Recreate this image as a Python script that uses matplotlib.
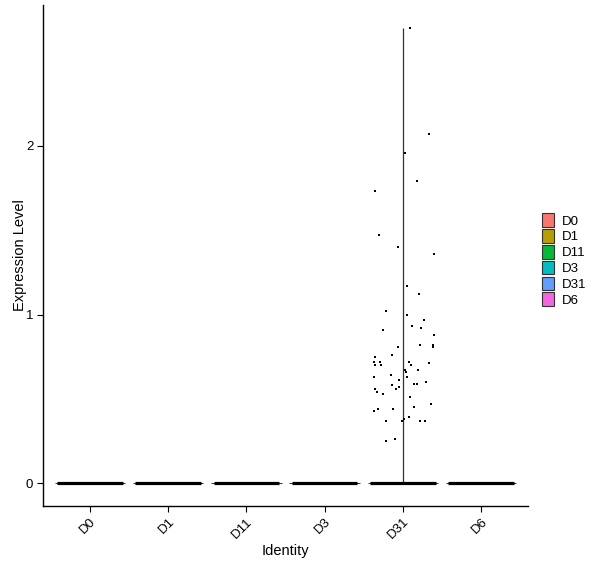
import numpy as np
import matplotlib
matplotlib.use("Agg")
from matplotlib import pyplot as plt
from matplotlib.patches import Patch

plt.rcParams['font.family'] = ['Liberation Sans', 'DejaVu Sans']

groups = ["D0", "D1", "D11", "D3", "D31", "D6"]
colors = ["#F8766D", "#B79F00", "#00BA38", "#00BFC4", "#619CFF", "#F564E3"]
# max expression per group (violin extends to max)
group_max = [0, 0, 0, 0, 2.70, 0]

# non-zero cells in D31: expression values and their jitter offsets
d31_values = [2.70, 2.07, 1.96, 1.79, 1.73, 1.47, 1.40, 1.36, 1.17, 1.12,
              1.02, 1.00, 0.97, 0.93, 0.91, 0.92, 0.88, 0.82, 0.82, 0.81,
              0.81, 0.76, 0.75, 0.72, 0.72, 0.72, 0.70, 0.71, 0.70, 0.70,
              0.67, 0.66, 0.67, 0.64, 0.63, 0.63, 0.61, 0.60, 0.59, 0.59,
              0.58, 0.57, 0.56, 0.56, 0.54, 0.53, 0.51, 0.47, 0.45, 0.44,
              0.44, 0.43, 0.39, 0.38, 0.37, 0.37, 0.37, 0.37, 0.26, 0.25]
d31_jitter = [0.09, 0.33, 0.03, 0.18, -0.35, -0.31, -0.06, 0.40, 0.05, 0.21,
              -0.22, 0.05, 0.27, 0.12, -0.26, 0.23, 0.40, 0.22, 0.38, 0.38,
              -0.06, -0.14, -0.35, 0.08, -0.37, -0.29, 0.10, 0.33, -0.36, -0.28,
              0.03, 0.04, 0.19, -0.15, -0.37, 0.05, -0.05, 0.29, 0.14, 0.18,
              -0.14, -0.05, -0.36, -0.09, -0.33, -0.26, 0.09, 0.36, 0.14, -0.32,
              -0.12, -0.37, 0.08, 0.01, -0.21, -0.01, 0.22, 0.28, -0.10, -0.22]

fig = plt.figure(figsize=(6, 5.68), dpi=100, facecolor='w')
ax = fig.add_axes([43 / 600, 1 - 506 / 568, 485 / 600, 501 / 568])

pos = np.arange(len(groups))
for i in pos:
    # flat violin outline at zero
    ax.hlines(0, i - 0.45, i + 0.45, color='#333333', lw=0.7, zorder=2)
    # jittered zero-valued cells form a thick band
    ax.hlines(0, i - 0.42, i + 0.42, color='black', lw=2.3, zorder=3)
    if group_max[i] > 0:
        ax.vlines(i, 0, group_max[i], color='#333333', lw=0.9, zorder=2)

d31 = groups.index("D31")
ax.plot(d31 + np.array(d31_jitter), d31_values, 's', color='black',
        ms=1.8, mew=0, zorder=4)

ax.set_xlim(-0.6, len(groups) - 0.4)
ax.set_ylim(-0.135, 2.835)
ax.set_xticks(pos)
ax.set_xticklabels(groups, rotation=45, ha='right', va='top',
                   rotation_mode='anchor', fontsize=9.5)
ax.set_yticks([0, 1, 2])
ax.set_yticklabels(['0', '1', '2'], fontsize=9.5)
ax.tick_params(length=4, width=0.8, color='black', labelcolor='black')
ax.tick_params(axis='x', pad=3)
ax.tick_params(axis='y', pad=3)
for s in ['top', 'right']:
    ax.spines[s].set_visible(False)
for s in ['left', 'bottom']:
    ax.spines[s].set_linewidth(1.0)
    ax.spines[s].set_color('black')

ax.set_xlabel("Identity", fontsize=10.5, labelpad=2)
ax.set_ylabel("Expression Level", fontsize=10.5, labelpad=-1)

handles = [Patch(facecolor=c, edgecolor='#333333', lw=0.8, label=g)
           for g, c in zip(groups, colors)]
fig.legend(handles=handles, loc='center left',
           bbox_to_anchor=(533 / 600, 1 - 260 / 568), frameon=False,
           fontsize=9.5, handlelength=0.9, handleheight=1.2,
           labelspacing=0.12, handletextpad=0.6, borderpad=0.2)

fig.savefig("out.png", dpi=100)
